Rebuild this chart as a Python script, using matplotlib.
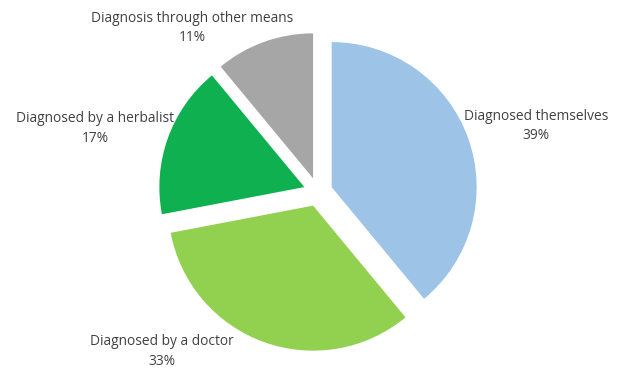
import matplotlib.pyplot as plt

categories = ['Diagnosed themselves', 'Diagnosed by a doctor',
              'Diagnosed by a herbalist', 'Diagnosis through other means']
shares = [39, 33, 17, 11]
colors = ['#9DC3E6', '#92D050', '#0FB050', '#A6A6A6']

# label centres, in pie radius units
label_pos = [(1.503, 0.455), (-1.076, -1.103), (-1.538, 0.441), (-0.869, 1.131)]

plt.rcParams['font.family'] = ['Open Sans', 'DejaVu Sans']

fig = plt.figure(figsize=(6.18, 3.69), dpi=100)
ax = fig.add_axes([0, 0, 1, 1])

ax.pie(shares, colors=colors, startangle=90, counterclock=False,
       explode=[0.1] * len(shares), radius=1.0,
       wedgeprops={'linewidth': 0})

for name, val, (x, y) in zip(categories, shares, label_pos):
     ax.text(x, y, f'{name}\n{val}%', ha='center', va='center',
             fontsize=9.9, color='#404040', linespacing=1.45)

# one radius unit = 145 px, pie centred at (318, 192) px from the top left
r_px = 145.0
ax.set_xlim(-318 / r_px, (618 - 318) / r_px)
ax.set_ylim(-(369 - 192) / r_px, 192 / r_px)
ax.axis('off')

fig.savefig('out.png', dpi=100, facecolor='white')
